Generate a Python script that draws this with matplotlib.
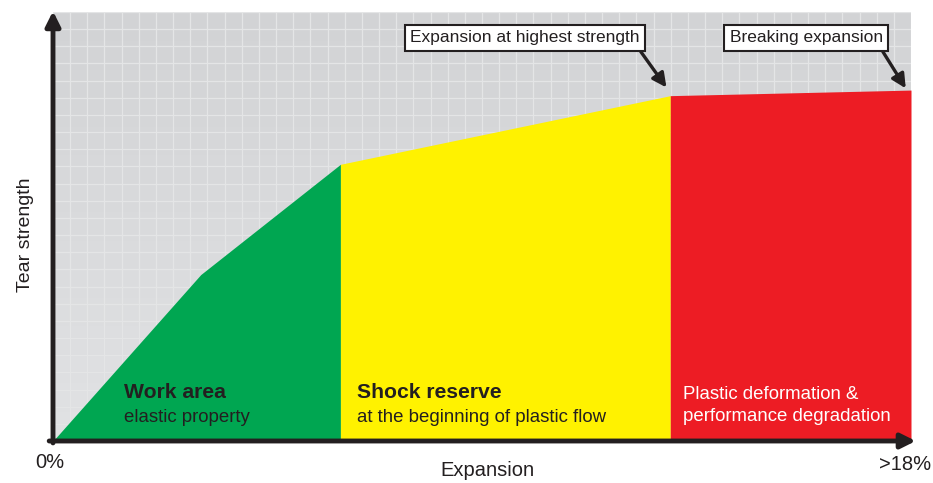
import numpy as np
import matplotlib
matplotlib.use("Agg")
import matplotlib.pyplot as plt
from matplotlib.colors import LinearSegmentedColormap

# ---- data ----
x_points = [0.0, 3.1, 6.03, 12.95, 18.0]      # expansion (%)
y_points = [0.0, 38.8, 64.5, 80.5, 81.8]      # tear strength (relative)
zone_bounds = [0.0, 6.03, 12.95, 18.0]
zone_colors = ["#00a651", "#fff200", "#ed1c24"]
zone_titles = ["Work area", "Shock reserve", ""]
zone_subs = ["elastic property", "at the beginning of plastic flow",
             "Plastic deformation &\nperformance degradation"]
x_tick_labels = ["0%", ">18%"]
annotations = ["Expansion at highest strength", "Breaking expansion"]
x_label = "Expansion"
y_label = "Tear strength"

plt.rcParams["font.family"] = ["Liberation Sans", "DejaVu Sans"]

W, H = 933, 483
fig = plt.figure(figsize=(W / 100, H / 100), dpi=100)
ax = fig.add_axes([53 / W, 1 - 441 / H, (911 - 53) / W, (441 - 12) / H])
ax.set_xlim(0, 18)
ax.set_ylim(0, 100)

# gradient background
cmap = LinearSegmentedColormap.from_list("bg", ["#e1e2e4", "#d2d3d5"])
ax.imshow(np.linspace(0, 1, 256).reshape(-1, 1), extent=[0, 18, 0, 100],
          origin="lower", aspect="auto", cmap=cmap, zorder=0)

# grid
ax.set_xticks(np.linspace(0, 18, 51))
ax.set_yticks(np.linspace(0, 100, 26))
ax.grid(True, color="#e4e5e6", lw=0.9, zorder=1)
ax.tick_params(length=0, labelbottom=False, labelleft=False)
for s in ax.spines.values():
    s.set_visible(False)

# zones
xs = np.array(x_points)
ys = np.array(y_points)
for i, c in enumerate(zone_colors):
    a, b = zone_bounds[i], zone_bounds[i + 1]
    m = (xs >= a) & (xs <= b)
    ax.fill_between(xs[m], 0, ys[m], color=c, lw=0, zorder=2)

dark = "#231f20"
# zone text
tx = [1.5, 6.38, 13.22]
for i in range(3):
    if zone_titles[i]:
        ax.text(tx[i], 11.4, zone_titles[i], fontsize=15.2, fontweight="bold",
                color=dark, va="center", ha="left", zorder=5)
        ax.text(tx[i], 5.5, zone_subs[i], fontsize=13.4, color=dark,
                va="center", ha="left", zorder=5)
    else:
        ax.text(tx[i], 8.3, zone_subs[i], fontsize=13.4, color="white",
                va="center", ha="left", linespacing=1.42, zorder=5)

# axis arrows
ap = dict(arrowstyle="-|>", lw=3.5, color=dark, mutation_scale=22,
          shrinkA=0, shrinkB=0)
ax.annotate("", xy=(0, 100.2), xytext=(0, -0.45), arrowprops=ap,
            annotation_clip=False, zorder=6)
ax.annotate("", xy=(18.1, 0), xytext=(-0.08, 0), arrowprops=ap,
            annotation_clip=False, zorder=6)

# labels
fig.text(50 / W, 1 - 463 / H, x_tick_labels[0], fontsize=14.5, color=dark,
         ha="center", va="center")
fig.text(931 / W, 1 - 465 / H, x_tick_labels[1], fontsize=14.5, color=dark,
         ha="right", va="center")
fig.text(487 / W, 1 - 471 / H, x_label, fontsize=14.5, color=dark,
         ha="center", va="center")
fig.text(25 / W, 1 - 235 / H, y_label, fontsize=14, color=dark,
         ha="center", va="center", rotation=90)

# callouts
bbox = dict(boxstyle="square,pad=0.32", fc="white", ec=dark, lw=1.5)
arr = dict(arrowstyle="-|>", lw=2.4, color=dark, mutation_scale=21,
           shrinkA=0, shrinkB=0)
ax.annotate(annotations[0], xy=(12.87, 82.4), xytext=(9.9, 94.0),
            fontsize=12.5, color=dark, ha="center", va="center", bbox=bbox,
            arrowprops=dict(arr, relpos=(0.985, 0.0)), zorder=7)
ax.annotate(annotations[1], xy=(17.89, 82.2), xytext=(15.8, 94.0),
            fontsize=12.5, color=dark, ha="center", va="center", bbox=bbox,
            arrowprops=dict(arr, relpos=(0.975, 0.0)), zorder=7)

fig.savefig("out.png", dpi=100, facecolor="white")
